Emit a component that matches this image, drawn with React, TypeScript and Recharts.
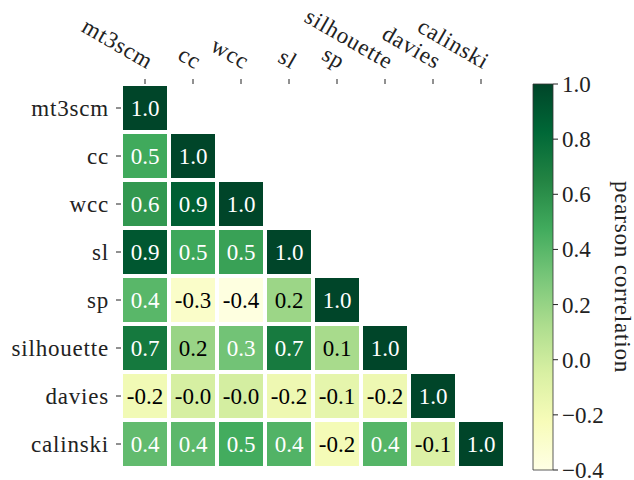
import React from "react";
import {
  ScatterChart,
  Scatter,
  XAxis,
  YAxis,
  BarChart,
  Bar,
  Label,
} from "recharts";

const FONT = "Liberation Serif";

const METRICS = ["mt3scm", "cc", "wcc", "sl", "sp", "silhouette", "davies", "calinski"];

// lower triangle of the pearson correlation matrix, row by row
const CORR: number[][] = [
  [1.0],
  [0.48, 1.0],
  [0.56, 0.87, 1.0],
  [0.91, 0.49, 0.52, 1.0],
  [0.4, -0.29, -0.38, 0.18, 1.0],
  [0.72, 0.19, 0.32, 0.71, 0.14, 1.0],
  [-0.19, -0.04, -0.03, -0.17, -0.12, -0.17, 1.0],
  [0.37, 0.39, 0.47, 0.42, -0.21, 0.41, -0.07, 1.0],
];

const VMIN = -0.4;
const VMAX = 1.0;
const CBAR_TICKS = [-0.4, -0.2, 0.0, 0.2, 0.4, 0.6, 0.8, 1.0];
const INDEX_TICKS = METRICS.map((_, i) => i);

// YlGn colormap stops
const YLGN = ["#ffffe5", "#f7fcb9", "#d9f0a3", "#addd8e", "#78c679", "#41ab5d", "#238443", "#006837", "#004529"];

const norm = (v: number) => Math.min(1, Math.max(0, (v - VMIN) / (VMAX - VMIN)));

const hexToRgb = (h: string) => [1, 3, 5].map((k) => parseInt(h.slice(k, k + 2), 16));

const ylgn = (v: number) => {
  const pos = norm(v) * (YLGN.length - 1);
  const i = Math.min(Math.floor(pos), YLGN.length - 2);
  const f = pos - i;
  const a = hexToRgb(YLGN[i]);
  const b = hexToRgb(YLGN[i + 1]);
  const c = a.map((x, k) => Math.round(x + (b[k] - x) * f));
  return `rgb(${c[0]},${c[1]},${c[2]})`;
};

const cells = CORR.flatMap((row, i) => row.map((value, j) => ({ x: j, y: i, value })));

const PLOT = 384;
const PITCH = PLOT / METRICS.length;
const CELL = PITCH - 4;

const txt = { fontFamily: FONT, fontSize: 23 };

const HeatCell = (props: any) => {
  const { cx, cy, payload } = props;
  const v = payload.value as number;
  return (
    <g>
      <rect x={cx - CELL / 2} y={cy - CELL / 2} width={CELL} height={CELL} fill={ylgn(v)} />
      <text
        x={cx}
        y={cy}
        dy={8}
        textAnchor="middle"
        style={txt}
        fill={norm(v) > 0.5 ? "#ffffff" : "#000000"}
      >
        {v.toFixed(1)}
      </text>
    </g>
  );
};

const TopTick = (props: any) => {
  const { x, y, payload } = props;
  return (
    <text
      x={x}
      y={y}
      dy={-5}
      textAnchor="end"
      transform={`rotate(30, ${x}, ${y})`}
      style={{ ...txt, letterSpacing: 0.8 }}
      fill="#222"
    >
      {METRICS[payload.value]}
    </text>
  );
};

const SideTick = (props: any) => {
  const { x, y, payload } = props;
  return (
    <text x={x} y={y} dy={8} textAnchor="end" style={{ ...txt, letterSpacing: 0.8 }} fill="#222">
      {METRICS[payload.value]}
    </text>
  );
};

const CbarTick = (props: any) => {
  const { x, y, payload } = props;
  return (
    <text x={x} y={y} dy={8} textAnchor="start" style={txt} fill="#222">
      {(payload.value as number).toFixed(1).replace("-", "\u2212")}
    </text>
  );
};

const CbarLabel = (props: any) => {
  const { viewBox } = props;
  const x = viewBox.x + viewBox.width - 14;
  const y = viewBox.y + viewBox.height / 2;
  return (
    <text
      x={x}
      y={y}
      textAnchor="middle"
      transform={`rotate(90, ${x}, ${y})`}
      style={{ ...txt, letterSpacing: 0.8 }}
      fill="#222"
    >
      pearson correlation
    </text>
  );
};

export default function App() {
  return (
    <div
      style={{
        position: "absolute",
        left: 0,
        top: 0,
        width: 634,
        height: 480,
        background: "#fff",
        fontFamily: FONT,
      }}
    >
      <div style={{ position: "absolute", left: 0, top: 0 }}>
        <ScatterChart width={520} height={480} margin={{ top: 24, left: 8, right: 15, bottom: 12 }}>
          <XAxis
            type="number"
            dataKey="x"
            orientation="top"
            domain={[-0.5, 7.5]}
            ticks={INDEX_TICKS}
            interval={0}
            height={60}
            axisLine={false}
            tickLine={{ stroke: "#222", strokeWidth: 1 }}
            tickSize={5}
            tickMargin={5}
            tick={<TopTick />}
          />
          <YAxis
            type="number"
            dataKey="y"
            reversed
            domain={[-0.5, 7.5]}
            ticks={INDEX_TICKS}
            interval={0}
            width={113}
            axisLine={false}
            tickLine={{ stroke: "#222", strokeWidth: 1 }}
            tickSize={5}
            tickMargin={7}
            tick={<SideTick />}
          />
          <Scatter data={cells} shape={HeatCell} isAnimationActive={false} />
        </ScatterChart>
      </div>

      <div style={{ position: "absolute", left: 520, top: 0 }}>
        <BarChart
          width={114}
          height={480}
          data={[{ key: "cbar", span: [VMIN, VMAX] }]}
          margin={{ top: 84, left: 13, right: 5, bottom: 10 }}
          barCategoryGap={0}
        >
          <defs>
            <linearGradient id="ylgnBar" x1="0" y1="0" x2="0" y2="1">
              {YLGN.slice()
                .reverse()
                .map((c, i) => (
                  <stop key={i} offset={`${(i / (YLGN.length - 1)) * 100}%`} stopColor={c} />
                ))}
            </linearGradient>
          </defs>
          <XAxis dataKey="key" hide />
          <YAxis
            orientation="right"
            domain={[VMIN, VMAX]}
            ticks={CBAR_TICKS}
            interval={0}
            width={76}
            axisLine={false}
            tickLine={{ stroke: "#222", strokeWidth: 1 }}
            tickSize={5}
            tickMargin={4}
            tick={<CbarTick />}
          >
            <Label content={<CbarLabel />} />
          </YAxis>
          <Bar dataKey="span" fill="url(#ylgnBar)" stroke="#333" strokeWidth={0.8} isAnimationActive={false} />
        </BarChart>
      </div>
    </div>
  );
}
